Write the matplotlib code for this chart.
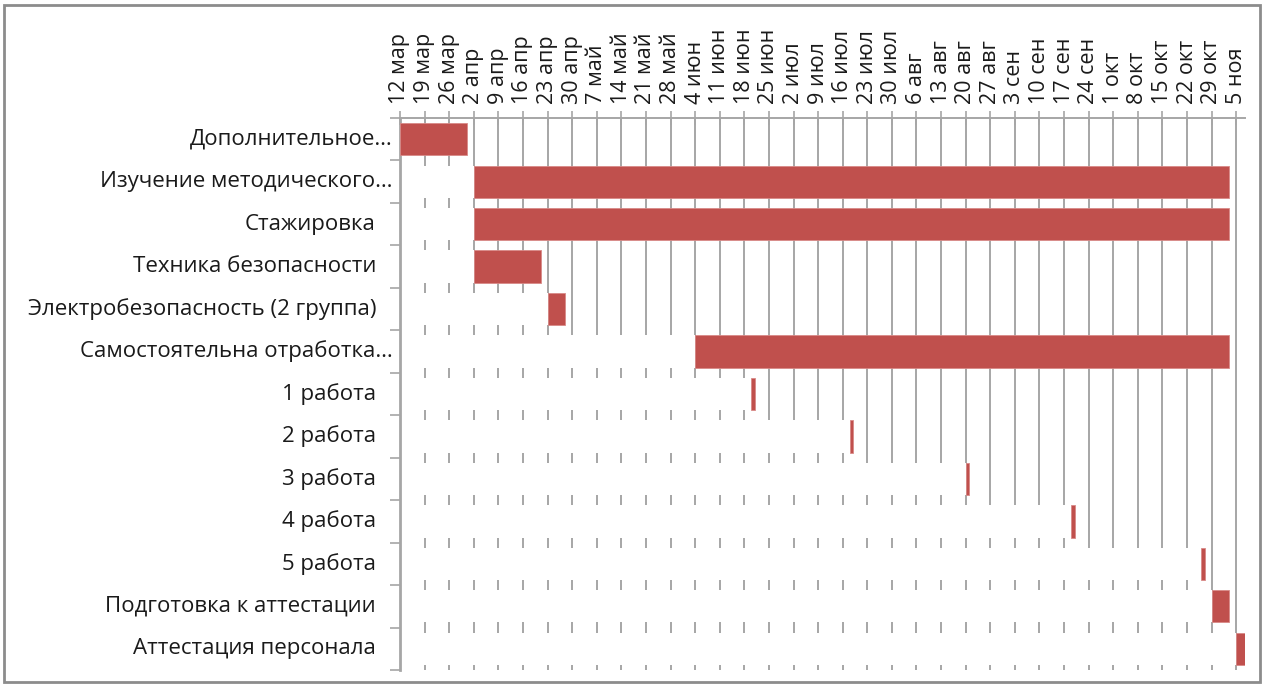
import matplotlib
matplotlib.use("Agg")
import matplotlib.pyplot as plt
import matplotlib.patches as patches
from matplotlib.transforms import offset_copy
import pandas as pd

plt.rcParams["font.family"] = ["Open Sans", "DejaVu Sans"]

# Tasks of the training plan, top to bottom
tasks = [
    "Дополнительное…",
    "Изучение методического…",
    "Стажировка",
    "Техника безопасности",
    "Электробезопасность (2 группа)",
    "Самостоятельна отработка…",
    "1 работа",
    "2 работа",
    "3 работа",
    "4 работа",
    "5 работа",
    "Подготовка к аттестации",
    "Аттестация персонала",
]
start_dates = [
    "2018-03-12", "2018-04-02", "2018-04-02", "2018-04-02", "2018-04-23",
    "2018-06-04", "2018-06-20", "2018-07-18", "2018-08-20", "2018-09-19",
    "2018-10-26", "2018-10-29", "2018-11-05",
]
durations = [19, 215, 215, 19, 5, 152, 1, 1, 1, 1, 1, 5, 3]

month_names = ["янв", "фев", "мар", "апр", "май", "июн",
               "июл", "авг", "сен", "окт", "ноя", "дек"]
axis_start = pd.Timestamp("2018-03-12")
axis_end = pd.Timestamp("2018-11-05")

starts = [(pd.Timestamp(d) - axis_start).days for d in start_dates]
tick_dates = pd.date_range(axis_start, axis_end, freq="7D")
tick_pos = [(d - axis_start).days for d in tick_dates]
tick_labels = [f"{d.day} {month_names[d.month - 1]}" for d in tick_dates]

fig = plt.figure(figsize=(12.65, 6.84), dpi=100)
ax = fig.add_axes([400 / 1265, 14 / 684, 845 / 1265, 552 / 684])

grid_color = "#A6A6A6"
bar_color = "#C0504D"
rows = [i + 0.5 for i in range(len(tasks))]

# weekly gridlines, then white offset bars hide them up to each task start
for x in tick_pos[1:]:
    ax.axvline(x, color=grid_color, lw=1.4, zorder=1)
ax.barh(rows, starts, left=0, height=0.76, color="white", zorder=2)
ax.barh(rows, durations, left=starts, height=0.76, color=bar_color,
        edgecolor="#D98A88", linewidth=0.6, zorder=3)

ax.set_xlim(0, (axis_end - axis_start).days + 2.5)
ax.set_ylim(len(tasks), 0)

ax.xaxis.tick_top()
ax.set_xticks(tick_pos)
ax.set_xticklabels(tick_labels, rotation=90, fontsize=15.5, color="#1A1A1A")
ax.tick_params(axis="x", direction="inout", length=10, width=1.2,
               color=grid_color, pad=5)

ax.set_yticks(range(len(tasks) + 1))
ax.set_yticklabels([])
ax.tick_params(axis="y", direction="out", length=7, width=1.2, color=grid_color)

for i, name in enumerate(tasks):
    gap = 7 if name.endswith("…") else 24
    tr = offset_copy(ax.get_yaxis_transform(), fig=fig, x=-gap, y=0, units="dots")
    ax.text(0, rows[i], name, transform=tr, ha="right", va="center",
            fontsize=16, color="#1A1A1A")

for side in ("right", "bottom"):
    ax.spines[side].set_visible(False)
ax.spines["left"].set_color(grid_color)
ax.spines["left"].set_linewidth(2)
ax.spines["top"].set_color(grid_color)
ax.spines["top"].set_linewidth(1.4)

# chart area frame
fig.add_artist(patches.Rectangle((4 / 1265, 2 / 684), 1256 / 1265, 677 / 684,
                                 transform=fig.transFigure, fill=False,
                                 edgecolor="#8C8C8C", linewidth=2))

fig.savefig("out.png", dpi=100)
